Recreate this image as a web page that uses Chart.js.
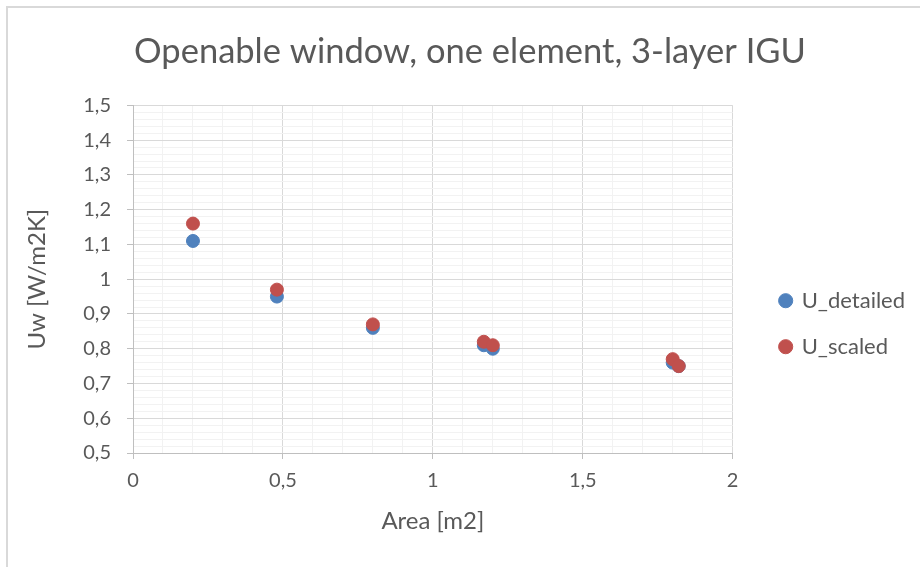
<!DOCTYPE html>
<html lang="en">
<head>
  <meta charset="UTF-8" />
  <title>Openable window, one element, 3-layer IGU</title>
  <style>
    * { margin: 0; padding: 0; box-sizing: border-box; }
    html, body { width: 920px; height: 567px; background: #fff; overflow: hidden; }
    .frame {
      position: absolute; left: 6px; top: 6px; width: 930px; height: 580px;
      border-top: 2px solid #d9d9d9; border-left: 2px solid #d9d9d9;
    }
    .wrap { position: absolute; left: 0; top: 0; width: 920px; height: 567px; }
  </style>
</head>
<body>
  <div class="frame"></div>
  <div class="wrap"><canvas id="grafico"></canvas></div>
  <script src="https://cdn.jsdelivr.net/npm/chart.js"></script>
  <script>
    // values
    const areas = [0.2, 0.48, 0.8, 1.17, 1.2, 1.8, 1.82];
    const uDetailed = [1.11, 0.95, 0.86, 0.81, 0.80, 0.76, 0.75];
    const uScaled = [1.16, 0.97, 0.87, 0.82, 0.81, 0.77, 0.75];
    const seriesNames = ['U_detailed', 'U_scaled'];

    const grey = '#595959';
    const fonte = 'Lato, "Open Sans", sans-serif';

    const pontos = ys => areas.map((x, i) => ({ x: x, y: ys[i] }));
    const virgula = v => String(Math.round(v * 10) / 10).replace('.', ',');
    const multiplo = (v, step) => Math.abs(v / step - Math.round(v / step)) < 1e-6;

    // a bit of empty room on the left side of the legend
    const legendaLarga = {
      id: 'legendaLarga',
      beforeLayout(chart) {
        const lg = chart.legend;
        if (lg && !lg.__largo) {
          const fit = lg.fit;
          lg.fit = function () { fit.call(this); this.width += 10; };
          lg.__largo = true;
        }
      }
    };

    const ctx = document.getElementById('grafico').getContext('2d');
    new Chart(ctx, {
      type: 'scatter',
      data: {
        datasets: [
          {
            label: seriesNames[0],
            data: pontos(uDetailed),
            backgroundColor: '#4f81bd',
            borderColor: '#4f81bd',
            borderWidth: 1,
            pointRadius: 6.5,
            pointHoverRadius: 6.5,
            order: 2
          },
          {
            // red drawn on top, like the original
            label: seriesNames[1],
            data: pontos(uScaled),
            backgroundColor: '#c0504d',
            borderColor: '#c0504d',
            borderWidth: 1,
            pointRadius: 6.5,
            pointHoverRadius: 6.5,
            order: 1
          }
        ]
      },
      plugins: [legendaLarga],
      options: {
        responsive: true,
        maintainAspectRatio: false,
        animation: false,
        layout: { padding: { left: 25, right: 5, top: 0, bottom: 31 } },
        scales: {
          x: {
            type: 'linear',
            min: 0, max: 2,
            afterFit: s => { s.height = 567 - 453 - 31; },
            ticks: {
              stepSize: 0.1, autoSkip: false, maxRotation: 0, padding: 10,
              color: grey, font: { family: fonte, size: 20 },
              callback: v => multiplo(v, 0.5) ? virgula(v) : ''
            },
            grid: {
              color: c => multiplo(c.tick.value, 0.5) ? '#d9d9d9' : '#f2f2f2',
              tickColor: c => multiplo(c.tick.value, 0.5) ? '#bfbfbf' : 'rgba(0,0,0,0)',
              tickLength: 6
            },
            border: { color: '#bfbfbf' },
            title: {
              display: true, text: 'Area [m2]', color: grey,
              font: { family: fonte, size: 24 }, padding: 0
            }
          },
          y: {
            type: 'linear',
            min: 0.5, max: 1.5,
            afterFit: s => { s.width = 133 - 25; },
            ticks: {
              stepSize: 0.02, autoSkip: false, padding: 16,
              color: grey, font: { family: fonte, size: 20 },
              callback: v => multiplo(v, 0.1) ? virgula(v) : ''
            },
            grid: {
              color: c => multiplo(c.tick.value, 0.1) ? '#d9d9d9' : '#f2f2f2',
              tickColor: c => multiplo(c.tick.value, 0.1) ? '#bfbfbf' : 'rgba(0,0,0,0)',
              tickLength: 6
            },
            border: { color: '#bfbfbf' },
            title: {
              display: true, text: 'Uw [W/m2K]', color: grey,
              font: { family: fonte, size: 24 }, padding: { top: -2, bottom: 0 }
            }
          },
          // empty spacer between plot and legend
          gap: {
            type: 'linear', position: 'right', min: 0, max: 1,
            afterFit: s => { s.width = 24; },
            ticks: { display: false },
            grid: { display: false, drawTicks: false },
            border: { display: false }
          }
        },
        plugins: {
          title: {
            display: true,
            text: 'Openable window, one element, 3-layer IGU',
            color: grey,
            font: { family: fonte, size: 34.5, weight: 'normal' },
            padding: { top: 31, bottom: 33 }
          },
          legend: {
            position: 'right',
            title: { display: true, text: '', padding: { top: 97 } },
            labels: {
              usePointStyle: true, pointStyle: 'circle',
              boxWidth: 10, boxHeight: 10, padding: 24,
              color: grey, font: { family: fonte, size: 22 },
              sort: (a, b) => a.datasetIndex - b.datasetIndex
            }
          },
          tooltip: { enabled: true }
        }
      }
    });
  </script>
</body>
</html>
